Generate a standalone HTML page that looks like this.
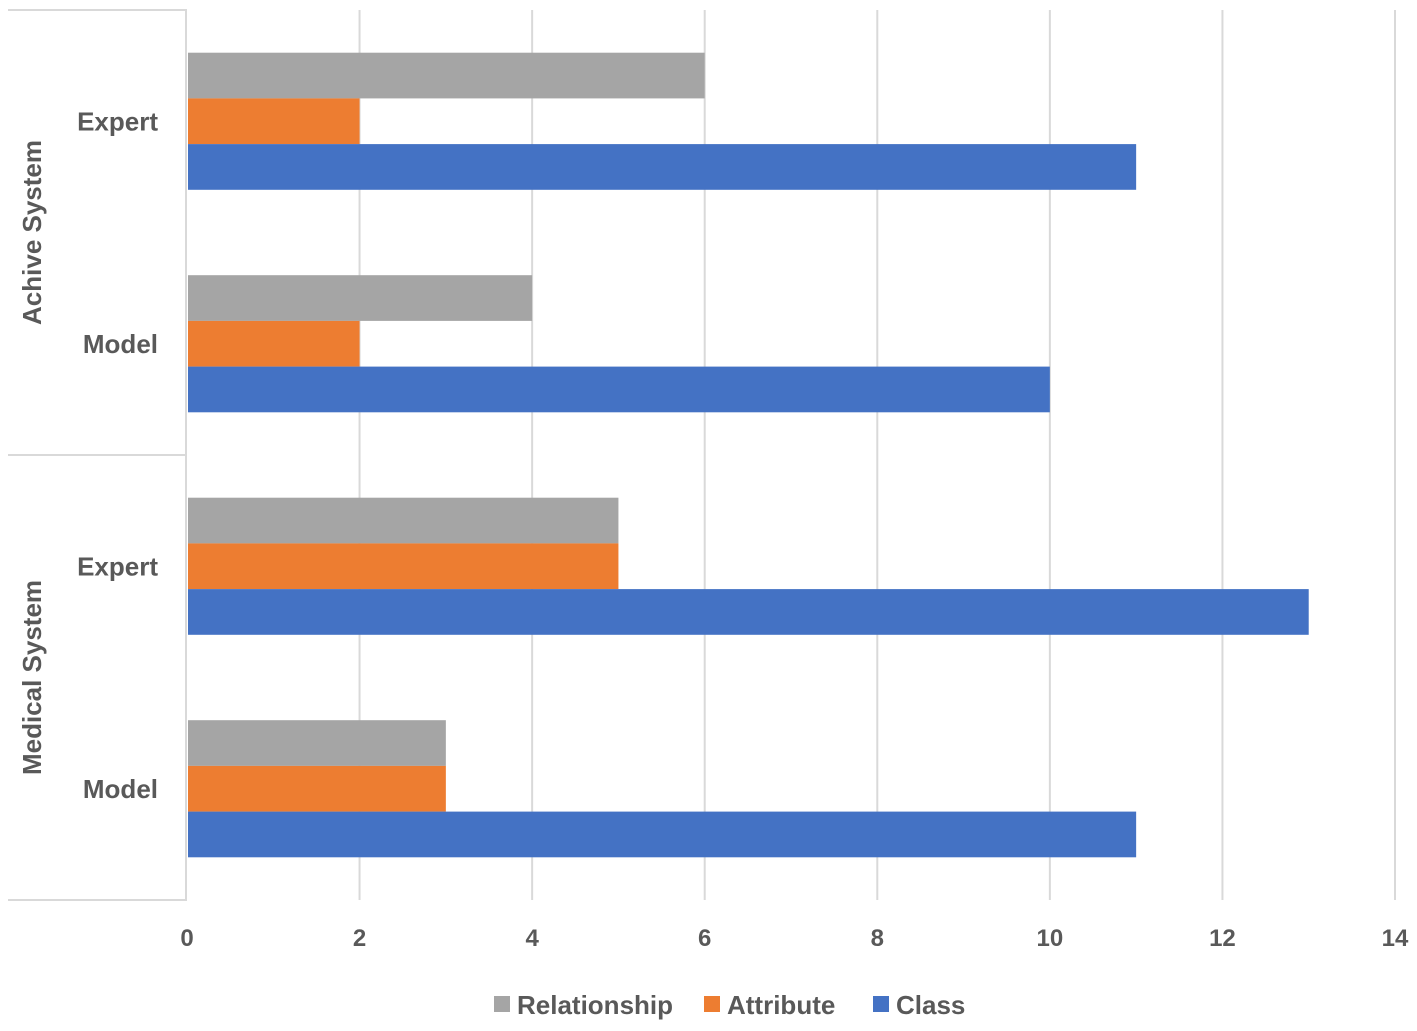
<!DOCTYPE html>
<html><head><meta charset="utf-8"><style>
body{margin:0;background:#fff;}
svg text{font-family:"Liberation Sans",sans-serif;font-weight:bold;fill:#595959;}
</style></head><body>
<svg id="chart" width="1417" height="1026"></svg>
<script>
const groups=["Achive System","Medical System"];
const categories=["Expert","Model","Expert","Model"];
const relationship=[6,4,5,3];
const attribute=[2,2,5,3];
const classVals=[11,10,13,11];
const ticks=[0,2,4,6,8,10,12,14];
const seriesNames=["Relationship","Attribute","Class"];
const colors=["#a5a5a5","#ed7d31","#4472c4"];
const NS="http://www.w3.org/2000/svg";
const svg=document.getElementById('chart');
const x0=187,x1=1395,yTop=10,yBot=900;
const xs=v=>x0+(x1-x0)*v/14;
const band=(yBot-yTop)/categories.length;
function mk(t,a,p){const e=document.createElementNS(NS,t);for(const k in a)e.setAttribute(k,a[k]);(p||svg).appendChild(e);return e;}
ticks.forEach((t,i)=>{
 if(t>0){const g=mk('line',{x1:xs(t),x2:xs(t),y1:yTop,y2:yBot,stroke:'#d9d9d9','stroke-width':2});
 
 }
 const l=mk('text',{x:xs(t),y:946,'text-anchor':'middle','font-size':24});l.textContent=t;
 
 
});
const frame=mk('path',{d:`M8 ${yTop}H186V${yBot}H8M8 455H186`,fill:'none',stroke:'#d9d9d9','stroke-width':2});


const series=[relationship,attribute,classVals];
const bh=45.7,gap=(band-3*bh)/2;
categories.forEach((c,i)=>{
 const top=yTop+band*i+gap;
 series.forEach((s,j)=>{
  const r=mk('rect',{x:x0+1,y:top+bh*j,width:xs(s[i])-x0-1,height:bh,fill:colors[j]});
  
  
 });
 const t=mk('text',{x:158,y:yTop+band*i+band/2+9,'text-anchor':'end','font-size':26});t.textContent=c;
 
 
});
groups.forEach((g,i)=>{
 const cy=yTop+445*i+222.5;
 const t=mk('text',{x:41,y:cy,'text-anchor':'middle','font-size':26,transform:`rotate(-90 41 ${cy})`});t.textContent=g;
 
 
});
const lx=[494,704,873];
seriesNames.forEach((n,j)=>{
 const r=mk('rect',{x:lx[j],y:996,width:16,height:16,fill:colors[j]});
 
 
 const t=mk('text',{x:lx[j]+23,y:1014,'font-size':26});t.textContent=n;
 
 
});
</script>
</body></html>
